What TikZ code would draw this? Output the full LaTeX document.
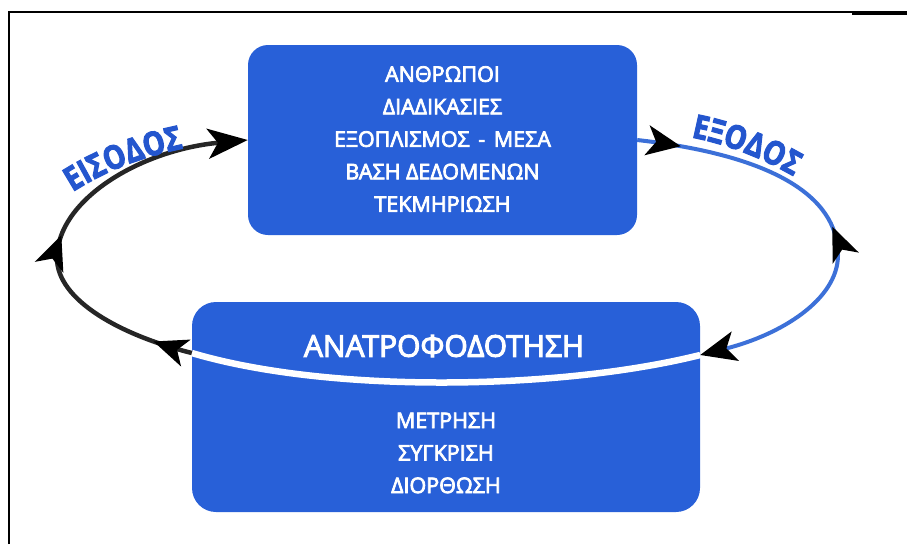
\documentclass[tikz,border=0pt]{standalone}
\usepackage{fontspec}
\setmainfont{Open Sans}
\newfontfamily\panelfont[FakeBold=3.5]{Open Sans}
\newfontfamily\labelfont[FakeStretch=0.84, FakeBold=3]{Open Sans}
\usetikzlibrary{arrows.meta,decorations.markings,decorations.text,calc}

\definecolor{boxblue}{RGB}{40,96,216}
\definecolor{labelblue}{RGB}{36,86,206}
\definecolor{loopdark}{RGB}{38,38,38}
\definecolor{loopblue}{RGB}{60,112,216}

\begin{document}
\begin{tikzpicture}[x=1pt,y=-1pt,
  panel/.style={fill=boxblue, draw=none, inner sep=0pt},
  paneltext/.style={text=white, align=center, inner sep=0pt,
    font=\panelfont\fontsize{21.5}{32.5}\selectfont},
  titletext/.style={text=white, inner sep=0pt,
    font=\panelfont\fontsize{30}{30}\selectfont},
  loopline/.style={line width=4.5pt},
  frameline/.style={black, line width=2pt},
]
\useasboundingbox (0,0) rectangle (907,544);

% page frame (left and top edges)
\draw[frameline] (9,544) -- (9,12) -- (852,12);
\draw[black, line width=3.5pt] (852,13) -- (907,13);

% the two process boxes
\node[panel, rounded corners=20pt, minimum width=389pt, minimum height=190pt]
  (proc) at (442.5,140) {};
\node[panel, rounded corners=24pt, minimum width=508pt, minimum height=210pt]
  (fb) at (446,407) {};

% box contents
\node[paneltext] (proclist) at (442.5,139)
  {ΑΝΘΡΩΠΟΙ\\ΔΙΑΔΙΚΑΣΙΕΣ\\ΕΞΟΠΛΙΣΜΟΣ\hspace{0.4em}-\hspace{0.4em}ΜΕΣΑ\\ΒΑΣΗ ΔΕΔΟΜΕΝΩΝ\\ΤΕΚΜΗΡΙΩΣΗ};
\node[titletext] (fbtitle) at (444,346) {ΑΝΑΤΡΟΦΟΔΟΤΗΣΗ};
\node[paneltext] (fblist) at (446,453) {ΜΕΤΡΗΣΗ\\ΣΥΓΚΡΙΣΗ\\ΔΙΟΡΘΩΣΗ};

% where the loop meets the feedback box
\coordinate (fbL) at ($(fb.west)+(0,-54)$);
\coordinate (fbR) at ($(fb.east)+(0,-52)$);

% feedback line across the lower box
\draw[white, line width=6.5pt] (fbR) .. controls (560,390) and (330,394) .. (fbL);

% input side of the loop
\draw[loopdark, loopline, -{Stealth[color=black, length=40pt, width=30pt, inset=10pt]},
  postaction={decorate},
  decoration={markings,
    mark=at position 40pt with {\arrow{Stealth[color=black, length=34pt, width=28pt, inset=9pt]}},
    mark=at position 198pt with {\arrow{Stealth[color=black, length=34pt, width=30pt, inset=9pt]}}}]
  (fbL) .. controls (120,335) and (57,300) .. (57,258)
        .. controls (57,200) and (140,150) .. (proc.west);

% output side of the loop
\draw[loopblue, line width=4pt, -{Stealth[color=black, length=36pt, width=30pt, inset=9pt]},
  postaction={decorate},
  decoration={markings,
    mark=at position 44pt with {\arrow{Stealth[color=black, length=34pt, width=30pt, inset=9pt]}},
    mark=at position 222pt with {\arrowreversed{Stealth[color=black, length=34pt, width=28pt, inset=9pt]}}}]
  (proc.east) .. controls (770,155) and (838,195) .. (838,255)
              .. controls (838,300) and (780,335) .. (fbR);

% curved labels
\path[decorate, decoration={text along path, text align=center,
    text={|\labelfont\fontsize{33}{33}\bfseries\selectfont\color{labelblue}|ΕΙΣΟΔΟΣ}}]
  (62,199) .. controls (100,173) and (140,156) .. (196,146);
\path[decorate, decoration={text along path, text align=center,
    text={|\labelfont\fontsize{33}{33}\bfseries\selectfont\color{labelblue}|ΕΞΟΔΟΣ}}]
  (684,136) .. controls (720,142) and (760,156) .. (800,180);
\end{tikzpicture}
\end{document}
